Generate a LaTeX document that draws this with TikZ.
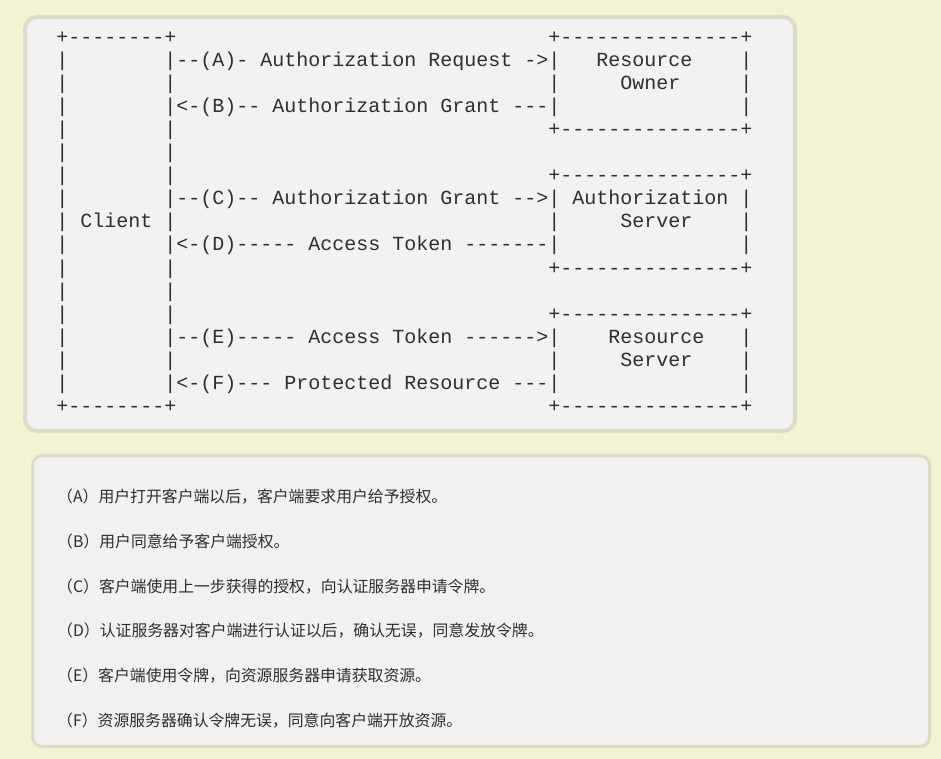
\documentclass[tikz,border=0pt]{standalone}
\usepackage{fontspec}
\setmonofont{Liberation Mono}
\newfontfamily\cjk{Noto Sans CJK SC}
\definecolor{pagebg}{HTML}{F3F2D3}
\definecolor{codebg}{HTML}{F2F2F2}
\definecolor{notebg}{HTML}{F3F1EF}
\definecolor{panelrule}{HTML}{DCDCC8}
\definecolor{ink}{HTML}{2E2E2E}
\newlength\charw
\setlength\charw{12pt}
\newcommand\gap[1]{\hspace*{#1\charw}}

\begin{document}
\begin{tikzpicture}[x=1pt,y=-1pt,
    panel/.style={draw=panelrule,rounded corners=12pt},
    asciirow/.style={anchor=base west,inner sep=0pt,text=ink,
      font=\ttfamily\fontsize{20}{23}\selectfont},
    noterow/.style={anchor=west,inner sep=0pt,text=ink,
      font=\cjk\fontsize{15.85}{20}\selectfont}]
  \fill[pagebg] (0,0) rectangle (941,759);
  \useasboundingbox (0,0) rectangle (941,759);
  % the two panels
  \draw[panel,line width=4pt,fill=codebg] (25,17) rectangle (795,431);
  \draw[panel,line width=3pt,fill=notebg,rounded corners=10pt]
    (32.5,455.5) rectangle (929.5,746.5);
  % ascii flow
  \foreach \txt [count=\i] in {
      {+--------+\gap{31}+---------------+},
      {|\gap{8}|--(A)- Authorization Request ->|\gap{3}Resource\gap{4}|},
      {|\gap{8}|\gap{31}|\gap{5}Owner\gap{5}|},
      {|\gap{8}|<-(B)-- Authorization Grant ---|\gap{15}|},
      {|\gap{8}|\gap{31}+---------------+},
      {|\gap{8}|},
      {|\gap{8}|\gap{31}+---------------+},
      {|\gap{8}|--(C)-- Authorization Grant -->| Authorization |},
      {| Client |\gap{31}|\gap{5}Server\gap{4}|},
      {|\gap{8}|<-(D)----- Access Token -------|\gap{15}|},
      {|\gap{8}|\gap{31}+---------------+},
      {|\gap{8}|},
      {|\gap{8}|\gap{31}+---------------+},
      {|\gap{8}|--(E)----- Access Token ------>|\gap{4}Resource\gap{3}|},
      {|\gap{8}|\gap{31}|\gap{5}Server\gap{4}|},
      {|\gap{8}|<-(F)--- Protected Resource ---|\gap{15}|},
      {+--------+\gap{31}+---------------+}}
    \node[asciirow] (row\i) at (56.2,{43.6+23.04*(\i-1)}) {\txt};
  % notes
  \foreach \txt [count=\i] in {
      （A）用户打开客户端以后，客户端要求用户给予授权。,
      （B）用户同意给予客户端授权。,
      （C）客户端使用上一步获得的授权，向认证服务器申请令牌。,
      （D）认证服务器对客户端进行认证以后，确认无误，同意发放令牌。,
      （E）客户端使用令牌，向资源服务器申请获取资源。,
      （F）资源服务器确认令牌无误，同意向客户端开放资源。}
    \node[noterow] (note\i) at (57,{496.5+44.8*(\i-1)}) {\txt};
\end{tikzpicture}
\end{document}
